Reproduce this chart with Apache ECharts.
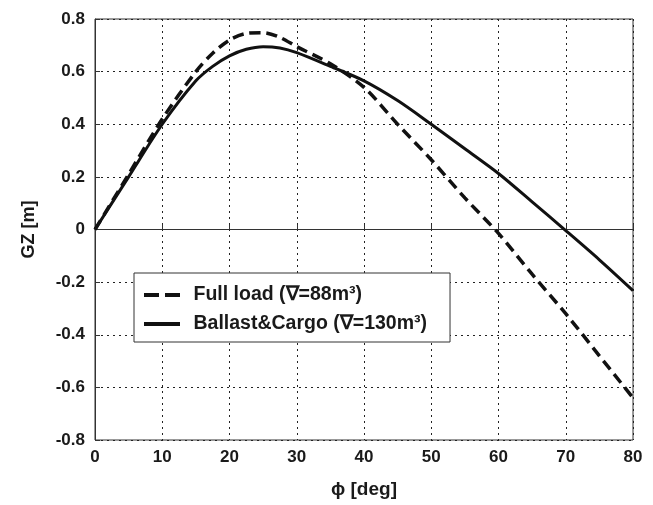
<!DOCTYPE html>
<html>
<head>
<meta charset="utf-8">
<script src="https://cdn.jsdelivr.net/npm/echarts@6/dist/echarts.min.js"></script>
<style>
  html, body { margin: 0; padding: 0; background: #fff; }
  #chart { width: 653px; height: 505px; }
</style>
</head>
<body>
<div id="chart"></div>
<script>
// heel angle [deg] and GZ [m]
const angles = [0, 5, 10, 15, 17.5, 20, 22.5, 25, 27.5, 30, 35, 40, 45, 50, 55, 60, 65, 70, 75, 80]
const fullLoad = [0, 0.21, 0.42, 0.6, 0.67, 0.72, 0.745, 0.748, 0.73, 0.695, 0.63, 0.54, 0.4, 0.265, 0.12, -0.015, -0.17, -0.32, -0.48, -0.64]
const ballastCargo = [0, 0.2, 0.4, 0.565, 0.62, 0.66, 0.685, 0.695, 0.69, 0.672, 0.62, 0.565, 0.49, 0.4, 0.307, 0.213, 0.105, -0.004, -0.115, -0.232]
const seriesNames = ['Full load (∇=88m³)', 'Ballast&Cargo (∇=130m³)']

const chart = echarts.init(document.getElementById('chart'))
const font = 'Liberation Sans, Arial, sans-serif'
const ink = '#1a1a1a'
const gridLine = { show: true, lineStyle: { color: '#222', width: 1, type: [2, 4] } }

// legend samples: two dashes / one bar
const dashIcon = 'path://M0,0H15V4H0Z M21,0H36V4H21Z'
const solidIcon = 'path://M0,0H36V4H0Z'

chart.setOption({
  animation: false,
  grid: {
    left: 95, right: 20, top: 19, bottom: 65,
    show: true, borderColor: '#333', borderWidth: 1,
  },
  legend: {
    data: [
      { name: seriesNames[0], icon: dashIcon },
      { name: seriesNames[1], icon: solidIcon },
    ],
    orient: 'vertical',
    left: 134,
    top: 273,
    backgroundColor: '#fff',
    borderColor: '#333',
    borderWidth: 1,
    borderRadius: 0,
    padding: [12, 23, 8, 10],
    itemGap: 9,
    itemWidth: 37,
    itemHeight: 4,
    textStyle: {
      color: ink, fontSize: 19.5, fontWeight: 'bold', fontFamily: font,
      padding: [0, 0, 0, 8],
    },
  },
  xAxis: {
    type: 'value',
    min: 0,
    max: 80,
    interval: 10,
    name: 'ϕ [deg]',
    nameLocation: 'middle',
    nameGap: 40,
    nameTextStyle: { color: ink, fontSize: 19, fontWeight: 'bold', fontFamily: font },
    axisLine: { show: true, lineStyle: { color: '#333' } },
    axisTick: { show: true, inside: true, length: 5, lineStyle: { color: '#333' } },
    axisLabel: { color: ink, fontSize: 17, fontWeight: 'bold', fontFamily: font, margin: 9 },
    splitLine: gridLine,
  },
  yAxis: {
    type: 'value',
    min: -0.8,
    max: 0.8,
    interval: 0.2,
    name: 'GZ [m]',
    nameLocation: 'middle',
    nameGap: 57,
    nameTextStyle: { color: ink, fontSize: 18, fontWeight: 'bold', fontFamily: font },
    axisLine: { show: true, lineStyle: { color: '#333' } },
    axisTick: { show: true, inside: true, length: 5, lineStyle: { color: '#333' } },
    axisLabel: {
      color: ink, fontSize: 17, fontWeight: 'bold', fontFamily: font, margin: 10,
      formatter: v => String(+v.toFixed(1)),
    },
    splitLine: gridLine,
  },
  series: [
    {
      name: seriesNames[0],
      type: 'line',
      data: angles.map((a, i) => [a, fullLoad[i]]),
      smooth: 0.3,
      symbol: 'none',
      lineStyle: { color: '#111', width: 3.5, type: [11, 6] },
      itemStyle: { color: '#111' },
    },
    {
      name: seriesNames[1],
      type: 'line',
      data: angles.map((a, i) => [a, ballastCargo[i]]),
      smooth: 0.3,
      symbol: 'none',
      lineStyle: { color: '#111', width: 3 },
      itemStyle: { color: '#111' },
    },
  ],
})
</script>
</body>
</html>
